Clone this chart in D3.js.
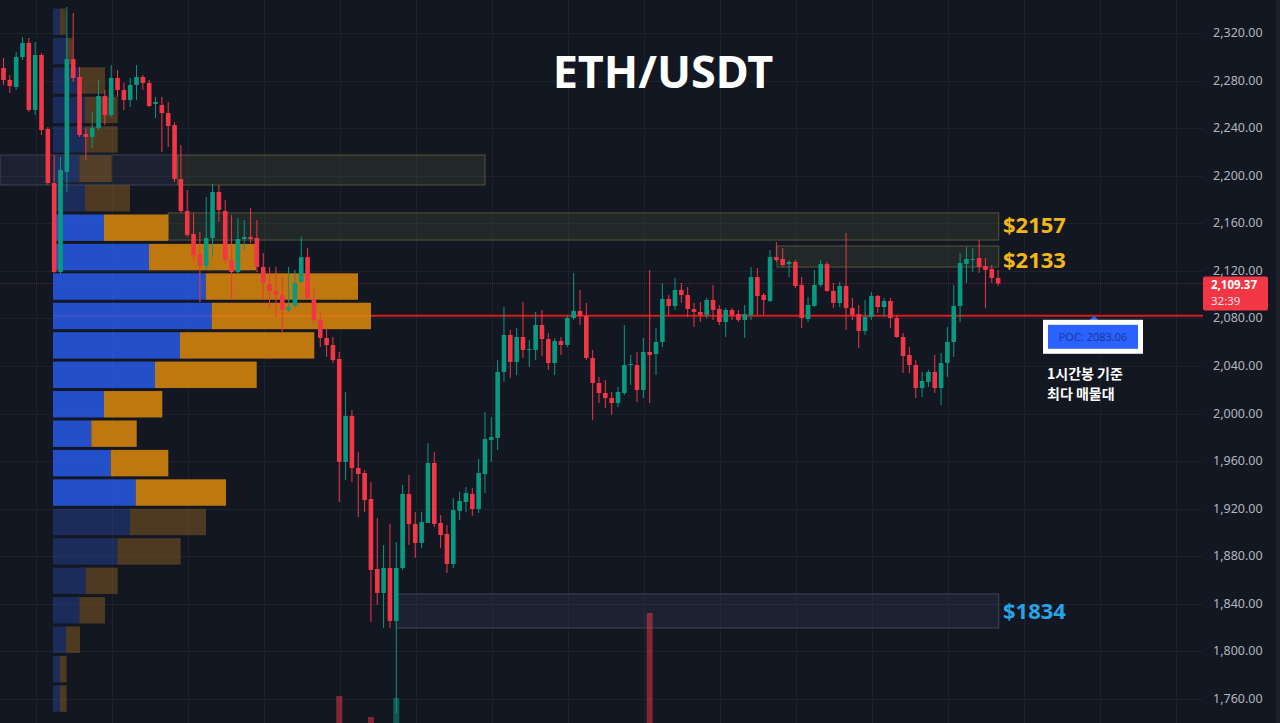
<!DOCTYPE html>
<html><head><meta charset="utf-8">
<script src="https://cdn.jsdelivr.net/npm/d3@7/dist/d3.min.js"></script>
<style>
html,body{margin:0;padding:0;background:#131722;overflow:hidden}
svg{display:block}
</style></head><body>
<svg id="c" width="1280" height="723"></svg>
<script>
// ---------- DATA ----------
const opens = [2290.6,2280.5,2274.6,2299.8,2311.6,2255.3,2301.5,2239.3,2193.9,2119.0,
2203.1,2298.1,2283.0,2235.1,2232.6,2240.1,2267.0,2251.0,2282.2,2272.1,
2263.7,2276.3,2283.0,2278.0,2260.3,2259.5,2252.7,2242.6,2197.2,2170.3,
2151.0,2134.2,2124.1,2147.6,2186.3,2170.3,2129.1,2119.0,2146.8,2148.5,
2147.6,2123.3,2109.0,2103.1,2099.7,2087.1,2090.5,2110.6,2131.6,2096.4,
2078.7,2063.6,2057.6,2045.9,1959.3,1998.0,1954.3,1950.0,1928.2,1869.3,
1849.2,1870.2,1825.6,1870.2,1932.4,1907.2,1891.2,1908.0,1958.5,1908.0,
1898.8,1873.5,1918.1,1925.6,1932.4,1919.8,1949.2,1977.8,1979.5,2035.0,
2066.1,2043.4,2064.4,2053.5,2053.5,2074.5,2062.7,2042.5,2061.0,2057.7,
2080.4,2086.3,2082.1,2046.7,2025.7,2017.3,2013.1,2008.9,2017.3,2040.8,
2040.8,2019.8,2051.8,2050.1,2060.2,2096.4,2090.5,2103.9,2099.7,2087.9,
2085.4,2082.9,2095.5,2087.9,2077.0,2087.1,2083.7,2078.7,2082.9,2114.8,
2099.7,2094.7,2131.6,2130.0,2125.8,2127.5,2108.1,2079.5,2090.5,2108.1,
2125.8,2103.1,2093.0,2107.3,2088.8,2083.7,2069.4,2081.2,2098.9,2089.6,
2094.7,2080.4,2064.4,2049.3,2040.8,2021.5,2026.6,2035.0,2021.5,2042.5,
2060.2,2090.5,2125.8,2129.6,2130.8,2124.1,2121.6,2114.0];
const highs = [2299.0,2284.7,2304.0,2316.6,2315.8,2312.4,2303.2,2241.0,2217.4,2215.7,
2341.9,2336.8,2291.4,2240.1,2253.6,2280.5,2272.1,2293.1,2288.9,2278.0,
2282.2,2293.1,2284.7,2280.5,2266.2,2266.2,2262.0,2245.2,2225.8,2188.0,
2168.6,2152.7,2182.1,2193.0,2192.2,2179.6,2166.9,2164.4,2162.8,2172.8,
2162.8,2135.0,2123.3,2123.3,2114.8,2123.3,2120.7,2148.5,2139.2,2106.4,
2084.6,2071.9,2064.4,2051.8,2018.1,2003.0,1967.7,1952.5,1942.5,1912.2,
1889.5,1907.2,1892.0,1940.0,1948.4,1917.2,1917.2,1975.2,1967.7,1914.7,
1906.3,1929.0,1934.1,1938.3,1937.4,1961.8,2001.3,1997.1,2045.0,2089.6,
2070.3,2071.9,2093.8,2061.9,2085.4,2087.1,2067.7,2063.6,2064.4,2082.9,
2118.2,2103.9,2093.0,2053.5,2030.8,2028.2,2018.1,2022.4,2074.5,2049.3,
2051.8,2063.6,2120.7,2071.9,2109.8,2099.7,2114.0,2109.8,2106.4,2093.0,
2093.8,2097.2,2108.1,2091.3,2088.8,2088.8,2087.1,2091.3,2123.3,2122.4,
2101.4,2137.5,2144.3,2139.2,2129.1,2129.1,2114.8,2098.0,2120.7,2129.1,
2127.5,2109.8,2110.6,2151.8,2097.2,2091.3,2095.5,2102.2,2099.7,2097.2,
2097.2,2082.9,2067.7,2056.0,2045.0,2035.0,2036.7,2049.3,2050.9,2072.8,
2108.1,2135.0,2140.1,2139.2,2145.9,2130.8,2124.9,2120.7];
const lows = [2276.3,2269.6,2272.1,2297.3,2253.6,2251.0,2234.2,2192.2,2118.2,2117.4,
2186.3,2278.8,2232.6,2213.2,2223.3,2238.4,2242.7,2249.4,2266.2,2255.3,
2257.8,2263.7,2272.1,2257.8,2248.5,2219.9,2224.1,2194.7,2168.6,2148.5,
2127.5,2093.8,2120.7,2131.6,2161.1,2126.6,2095.5,2118.2,2137.5,2143.4,
2119.0,2095.5,2089.6,2081.2,2068.6,2085.4,2088.8,2109.8,2095.5,2076.2,
2056.0,2047.6,2042.5,1925.7,1944.2,1942.5,1913.0,1917.2,1824.8,1839.1,
1819.7,1819.7,1748.0,1868.5,1889.5,1878.6,1887.0,1908.0,1904.6,1887.0,
1866.0,1870.2,1910.5,1917.2,1913.9,1916.4,1933.2,1959.3,1969.4,2026.6,
2029.9,2032.4,2046.7,2039.2,2045.0,2048.4,2036.6,2032.4,2049.3,2056.0,
2078.7,2074.5,2045.0,1994.6,2008.9,2004.7,1998.8,2005.5,2015.6,2024.0,
2009.7,2013.1,2008.9,2032.4,2056.0,2082.9,2087.1,2093.0,2081.2,2072.8,
2077.0,2080.4,2078.7,2074.5,2064.4,2078.7,2077.0,2063.6,2078.7,2082.9,
2082.9,2093.8,2127.5,2123.3,2114.8,2105.6,2071.9,2077.0,2089.6,2106.4,
2102.2,2088.8,2089.6,2070.3,2078.7,2055.2,2066.1,2078.7,2084.6,2081.2,
2071.9,2063.6,2034.1,2034.1,2013.1,2013.9,2022.4,2017.3,2007.2,2030.8,
2047.6,2077.0,2109.8,2119.0,2118.2,2088.8,2109.8,2107.3];
const closes = [2280.5,2275.4,2299.8,2311.6,2255.3,2301.5,2238.4,2193.9,2119.0,2204.8,
2298.1,2282.2,2234.2,2232.6,2240.1,2267.0,2251.0,2282.2,2272.1,2263.7,
2276.3,2283.0,2278.0,2258.6,2262.0,2252.7,2241.8,2197.2,2170.3,2150.2,
2133.3,2124.1,2147.6,2186.3,2171.2,2129.1,2119.0,2146.8,2148.5,2146.8,
2123.3,2109.8,2103.1,2099.7,2087.1,2089.6,2109.8,2131.6,2097.2,2078.7,
2063.6,2057.6,2045.0,1959.3,1998.0,1954.3,1949.2,1927.3,1868.5,1849.2,
1870.2,1825.6,1870.2,1932.4,1907.2,1891.2,1908.8,1958.5,1907.2,1897.9,
1873.5,1918.9,1926.5,1933.2,1919.8,1950.0,1978.6,1980.3,2035.0,2066.1,
2043.4,2064.4,2053.5,2054.3,2074.5,2062.7,2042.5,2061.0,2057.7,2080.4,
2086.3,2082.1,2046.7,2025.7,2017.3,2013.1,2008.9,2018.1,2040.8,2041.7,
2019.8,2051.8,2049.3,2060.2,2096.4,2090.5,2103.9,2099.7,2087.9,2085.4,
2082.9,2095.5,2087.1,2077.0,2087.1,2082.9,2078.7,2083.7,2114.8,2098.9,
2095.5,2131.6,2129.1,2124.9,2127.5,2107.3,2080.4,2091.3,2108.1,2125.8,
2103.1,2093.0,2107.3,2088.8,2082.9,2069.4,2081.2,2098.9,2089.6,2094.7,
2080.4,2064.4,2048.4,2040.8,2021.5,2027.4,2035.0,2021.5,2042.5,2060.2,
2090.5,2126.6,2130.0,2130.0,2123.3,2120.7,2114.0,2109.37];

// visible volume bars (bar index, volume)
const volIndex = [53, 58, 62, 102];
const volValues = [64, 43, 62, 147];

// volume profile rows, top (highest price) to bottom
const vpUp   = [7,13,26,32,32,26.3,32,51,96,152.7,158.7,127,102,51,38.3,57.7,82.7,77,64.3,32.7,26.3,13,7,7];
const vpDown = [5.7,6.7,26,32.7,32.7,32.4,45,64.3,107,152.3,159.3,134.3,101.7,58.3,45.4,57.6,90.3,76,63.4,32,25.7,14,6.7,6.7];
const valueAreaRows = [7, 16];

const priceTicks = [2320,2280,2240,2200,2160,2120,2080,2040,2000,1960,1920,1880,1840,1800,1760];

const zoneHigh = [2217.4, 2217.4, 2168.7, 2140.9, 1848.3];
const zoneLow  = [2192.2, 2192.2, 2145.9, 2123.2, 1819.7];
const zoneFrom = [-0.6, 27.5, 26.0, 122.1, 62.0];
const zoneTo   = [27.5, 76.0, 157.1, 157.1, 157.1];
const zoneKind = ["blue","olive","olive","olive","blue"];

const levelLabels = ["$2157", "$2133", "$1834"];
const levelZone = [2, 3, 4];
const levelKind = ["gold","gold","blue"];

const pocPrice = 2083.06;
const lastPrice = 2109.37;
const countdown = "32:39";
const title = "ETH/USDT";
const noteLines = ["1시간봉 기준", "최다 매물대"];

// ---------- DRAW ----------
const svg = d3.select("#c");
const plotRight = 1203;
const y = d3.scaleLinear().domain([1760, 2320]).range([699, 33]);
const x = d3.scaleLinear().domain([0, 157]).range([3.5, 998.1]);
const fmt = d3.format(",.2f");

svg.append("rect").attr("width",1280).attr("height",723).attr("fill","#131722");

// grid
const g = svg.append("g");
g.selectAll("line.h").data(priceTicks).join("line")
  .attr("x1",0).attr("x2",plotRight)
  .attr("y1",d=>Math.round(y(d))+0.5).attr("y2",d=>Math.round(y(d))+0.5)
  .attr("stroke","#1d212c").attr("stroke-width",1);
g.selectAll("line.v").data(d3.range(5, 190, 12)).join("line")
  .attr("x1",d=>Math.round(x(d)+0.8)+0.5).attr("x2",d=>Math.round(x(d)+0.8)+0.5)
  .attr("y1",0).attr("y2",723)
  .attr("stroke","#1d212c").attr("stroke-width",1)
  .attr("display",d=>x(d)>plotRight?"none":null);

// zones
const zoneStyle = {
  olive:{fill:"rgba(120,125,70,0.16)", stroke:"#55563a"},
  blue:{fill:"rgba(80,100,140,0.15)", stroke:"#3d4656"}
};
svg.append("g").selectAll("rect").data(zoneHigh.map((h,i)=>i)).join("rect")
  .attr("x",i=>Math.max(0,x(zoneFrom[i])))
  .attr("width",i=>x(zoneTo[i])-Math.max(0,x(zoneFrom[i])))
  .attr("y",i=>y(zoneHigh[i])).attr("height",i=>y(zoneLow[i])-y(zoneHigh[i]))
  .attr("fill",i=>zoneStyle[zoneKind[i]].fill)
  .attr("stroke",i=>zoneStyle[zoneKind[i]].stroke).attr("stroke-width",1);

// current price line
svg.append("line").attr("x1",0).attr("x2",plotRight)
  .attr("y1",y(lastPrice)).attr("y2",y(lastPrice))
  .attr("stroke","#f23645").attr("stroke-opacity",0.35).attr("stroke-dasharray","1,1");

// POC line
svg.append("line").attr("x1",53).attr("x2",plotRight)
  .attr("y1",y(pocPrice)+1).attr("y2",y(pocPrice)+1)
  .attr("stroke","#dd1a1a").attr("stroke-width",2);

// volume profile
const pMax = d3.max(highs), pMin = d3.min(lows);
const nRows = vpUp.length;
const rowSize = (pMax - pMin)/nRows;
const vx = d3.scaleLinear().domain([0, 318]).range([53, 371]);
const vp = svg.append("g");
vpUp.forEach((u,i)=>{
  const top = y(pMax - i*rowSize), bot = y(pMax - (i+1)*rowSize);
  const inVA = i>=valueAreaRows[0] && i<=valueAreaRows[1];
  vp.append("rect").attr("x",vx(0)).attr("width",vx(u)-vx(0))
    .attr("y",top+1.5).attr("height",bot-top-3)
    .attr("fill",inVA?"rgba(39,90,229,0.86)":"rgba(39,72,160,0.45)");
  vp.append("rect").attr("x",vx(u)).attr("width",vx(u+vpDown[i])-vx(u))
    .attr("y",top+1.5).attr("height",bot-top-3)
    .attr("fill",inVA?"rgba(220,135,13,0.86)":"rgba(150,100,35,0.45)");
});

// volume bars
const volBase = 760;
svg.append("g").selectAll("rect").data(volIndex).join("rect")
  .attr("x",(d)=>x(d)-3).attr("width",6)
  .attr("y",(d,i)=>volBase-volValues[i]).attr("height",(d,i)=>volValues[i])
  .attr("fill",d=>closes[d]>=opens[d]?"rgba(8,153,129,0.5)":"rgba(242,54,69,0.5)");

// candles
const cg = svg.append("g");
opens.forEach((o,i)=>{
  const c = closes[i], up = c>=o, col = up?"#089981":"#f23645";
  const cx = x(i);
  cg.append("line").attr("x1",cx).attr("x2",cx).attr("y1",y(highs[i])).attr("y2",y(lows[i]))
    .attr("stroke",col).attr("stroke-width",1);
  const t = y(Math.max(o,c)), b = y(Math.min(o,c));
  cg.append("rect").attr("x",cx-2.3).attr("width",4.6)
    .attr("y",t).attr("height",Math.max(1,b-t)).attr("fill",col);
});

// level labels
const labelColor = {gold:"#f2b619", blue:"#27a4e6"};
const labelDy = [-2, 2, -1];
levelLabels.forEach((t,i)=>{
  const z = levelZone[i];
  svg.append("text").attr("x",1003).attr("y",(y(zoneHigh[z])+y(zoneLow[z]))/2+labelDy[i])
    .attr("dominant-baseline","central")
    .attr("font-family","Noto Sans").attr("font-weight","bold").attr("font-size",22)
    .attr("fill",labelColor[levelKind[i]]).text(t);
});

// title
svg.append("text").attr("x",663).attr("y",88).attr("text-anchor","middle")
  .attr("font-family","Noto Sans").attr("font-weight","bold").attr("font-size",45)
  .attr("fill","#ffffff").text(title);

// right axis
svg.append("rect").attr("x",1276).attr("y",0).attr("width",4).attr("height",723).attr("fill","#1e2129");
svg.append("g").selectAll("text").data(priceTicks).join("text")
  .attr("x",1213).attr("y",d=>y(d)+4)
  .attr("font-family","Noto Sans").attr("font-size",12.5).attr("fill","#b2b5be")
  .text(d=>fmt(d));

// last price tag
const ly = y(lastPrice);
svg.append("rect").attr("x",1203).attr("y",ly-7).attr("width",65).attr("height",34)
  .attr("rx",2).attr("fill","#f23645");
svg.append("text").attr("x",1211).attr("y",ly+5.5)
  .attr("font-family","Noto Sans").attr("font-size",11.5).attr("font-weight","bold")
  .attr("fill","#ffffff").text(fmt(lastPrice));
svg.append("text").attr("x",1211).attr("y",ly+21.5)
  .attr("font-family","Noto Sans").attr("font-size",11.5)
  .attr("fill","#ffe0e3").text(countdown);

// POC label
const py = y(pocPrice);
svg.append("path").attr("d",`M1089,${py+6} L1099,${py+6} L1094,${py+1} Z`).attr("fill","#2962ff");
svg.append("rect").attr("x",1043).attr("y",py+5).attr("width",100).attr("height",34).attr("fill","#ffffff");
svg.append("rect").attr("x",1048).attr("y",py+10).attr("width",90).attr("height",24).attr("fill","#2962ff");
svg.append("text").attr("x",1093).attr("y",py+22).attr("text-anchor","middle")
  .attr("dominant-baseline","central")
  .attr("font-family","Noto Sans").attr("font-size",11).attr("fill","#1d3a94")
  .text("POC: " + pocPrice.toFixed(2));

// note
noteLines.forEach((t,i)=>{
  svg.append("text").attr("x",1047).attr("y",379+i*19.5)
    .attr("font-family","Noto Sans CJK KR").attr("font-weight","bold").attr("font-size",14)
    .attr("fill","#ffffff").text(t);
});
</script>
</body></html>
